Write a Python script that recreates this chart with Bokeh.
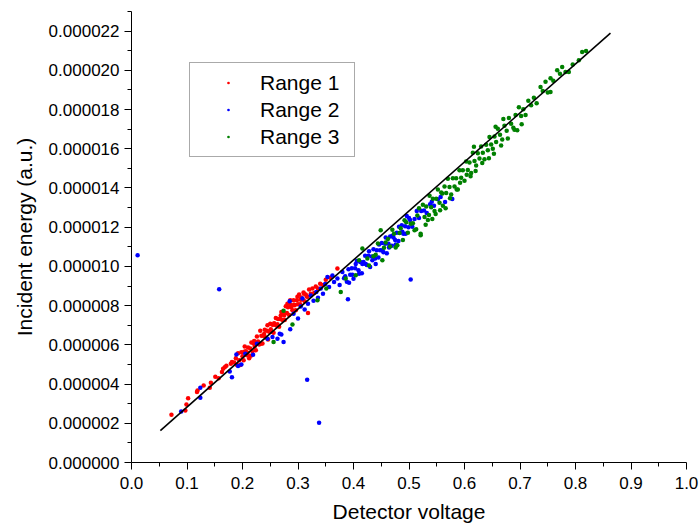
from bokeh.plotting import figure
from bokeh.models import Range1d, FixedTicker, PrintfTickFormatter, Legend, LegendItem
from bokeh.embed import file_html
from bokeh.resources import INLINE

MICRO = 1e-6  # y values below are given in units of 1e-6

# Range 1 (red)
r1_x = [0.072, 0.097, 0.099, 0.102, 0.118, 0.119, 0.130, 0.141, 0.143, 0.151, 0.157, 0.163, 0.165, 0.168, 0.171, 0.179, 0.181,
        0.185, 0.188, 0.190, 0.192, 0.194, 0.196, 0.198, 0.200, 0.202, 0.204, 0.206, 0.208, 0.210, 0.212, 0.214, 0.216,
        0.218, 0.220, 0.222, 0.224, 0.226, 0.228, 0.230, 0.232, 0.234, 0.236, 0.238, 0.240, 0.242, 0.244, 0.246, 0.248,
        0.250, 0.252, 0.254, 0.256, 0.258, 0.260, 0.262, 0.264, 0.266, 0.268, 0.270, 0.272, 0.274, 0.276, 0.278, 0.280,
        0.282, 0.284, 0.286, 0.288, 0.290, 0.292, 0.294, 0.296, 0.298, 0.300, 0.302, 0.304, 0.306, 0.308, 0.310, 0.312,
        0.314, 0.316, 0.318, 0.320, 0.323, 0.326, 0.329, 0.332, 0.336, 0.340, 0.345, 0.350, 0.358, 0.371,
        0.203, 0.209, 0.215, 0.221, 0.227, 0.233, 0.239, 0.245, 0.251, 0.257, 0.263, 0.269, 0.275, 0.281, 0.287, 0.293,
        0.299, 0.305, 0.311, 0.317]
r1_y = [2.43, 2.65, 2.96, 3.28, 3.59, 3.67, 3.93, 3.81, 4.07, 4.37, 4.30, 4.61, 4.78, 4.86, 4.93, 5.04, 5.12,
        5.10, 5.32, 4.97, 5.57, 5.22, 4.97, 5.62, 5.42, 5.22, 5.92, 5.67, 5.47, 5.87, 5.32, 5.82, 6.12,
        5.67, 6.07, 5.92, 5.72, 6.42, 6.17, 6.02, 6.72, 6.47, 6.07, 6.47, 6.77, 6.37, 6.72, 6.27, 6.67,
        7.07, 6.67, 7.02, 6.62, 7.02, 7.37, 6.97, 7.32, 6.92, 7.32, 7.67, 7.27, 7.62, 7.27, 7.97, 7.62,
        7.92, 7.52, 8.27, 7.92, 7.77, 8.27, 8.02, 7.77, 8.27, 8.07, 8.57, 8.07, 8.42, 8.32, 8.67, 8.22,
        8.57, 8.47, 7.62, 8.82, 8.60, 8.87, 8.65, 8.97, 8.87, 9.12, 9.05, 9.32, 9.42, 9.89,
        5.65, 5.60, 5.45, 6.20, 6.10, 6.05, 6.55, 7.00, 6.80, 7.10, 7.05, 7.50, 7.50, 8.10, 8.05, 8.05,
        8.45, 8.30, 8.60, 8.45]

# Range 2 (blue)
r2_x = [0.011, 0.158, 0.3165, 0.338, 0.503, 0.390,
        0.0895, 0.124, 0.124, 0.177, 0.181, 0.189, 0.192, 0.198, 0.205, 0.219, 0.226, 0.245, 0.254, 0.263, 0.267,
        0.270, 0.274, 0.286, 0.285, 0.292, 0.300, 0.305, 0.308, 0.312, 0.318, 0.323, 0.328, 0.333, 0.336, 0.341,
        0.345, 0.349, 0.353, 0.356, 0.362, 0.365, 0.371, 0.375, 0.380, 0.383,
        0.385, 0.388, 0.391, 0.394, 0.397, 0.400, 0.403, 0.406, 0.409, 0.412, 0.415, 0.418, 0.421, 0.424, 0.427,
        0.430, 0.433, 0.436, 0.439, 0.442, 0.445, 0.448, 0.451, 0.454, 0.457, 0.460, 0.463, 0.466, 0.469, 0.472,
        0.475, 0.478, 0.481, 0.484, 0.487, 0.490, 0.493, 0.496, 0.499, 0.502, 0.506, 0.510, 0.514, 0.518, 0.522,
        0.527, 0.532, 0.538, 0.545, 0.552, 0.565, 0.578,
        0.392, 0.398, 0.404, 0.410, 0.416, 0.422, 0.428, 0.434, 0.440, 0.446, 0.452, 0.458, 0.464, 0.470, 0.476,
        0.482, 0.488, 0.494, 0.500, 0.557, 0.541]
r2_y = [10.57, 8.83, 4.22, 2.03, 9.33, 8.32,
        2.60, 3.81, 3.30, 4.64, 4.35, 5.51, 4.92, 5.00, 5.55, 5.50, 6.06, 6.31, 6.40, 6.31, 6.57,
        6.53, 6.14, 6.79, 8.22, 7.59, 7.35, 7.95, 8.36, 7.80, 8.10, 8.52, 8.25, 8.70, 8.40, 8.87,
        8.60, 9.10, 9.46, 8.95, 9.54, 9.20, 9.38, 9.05, 9.71, 9.40,
        9.50, 9.22, 9.85, 9.57, 9.90, 9.37, 9.90, 10.27, 9.80, 10.22, 9.65, 10.22, 10.55, 10.07, 10.55,
        9.97, 10.50, 10.87, 10.40, 10.82, 10.45, 10.82, 11.20, 10.72, 11.15, 10.67, 11.15, 11.52, 11.05, 11.47,
        11.35, 11.72, 11.30, 11.72, 12.10, 11.67, 12.05, 12.57, 12.00, 12.37, 12.02, 12.42, 12.82, 12.47, 12.82,
        12.85, 12.72, 13.17, 13.10, 13.42, 13.29, 13.44,
        9.17, 9.57, 10.12, 9.62, 10.12, 10.12, 10.77, 10.32, 10.12, 11.12, 10.82, 11.47, 10.97, 11.57, 11.12,
        12.02, 11.77, 11.67, 12.47, 13.54, 13.30]

# Range 3 (green)
r3_x = [0.256, 0.274, 0.290, 0.335, 0.351, 0.377, 0.386, 0.404, 0.410, 0.416, 0.425, 0.428, 0.440, 0.449, 0.455,
        0.462, 0.473, 0.479, 0.485, 0.492, 0.503, 0.510, 0.515, 0.521, 0.521,
        0.525, 0.528, 0.531, 0.534, 0.537, 0.540, 0.543, 0.546, 0.549, 0.552, 0.555, 0.558, 0.561, 0.564, 0.567,
        0.570, 0.573, 0.576, 0.579, 0.582, 0.585, 0.588, 0.591, 0.594, 0.597, 0.600, 0.603, 0.606, 0.609, 0.612,
        0.615, 0.618, 0.621, 0.624, 0.627, 0.630, 0.633, 0.636, 0.639, 0.642, 0.645, 0.648, 0.651, 0.654, 0.657,
        0.660, 0.664, 0.668, 0.672, 0.676, 0.680, 0.684, 0.688, 0.692, 0.695, 0.698, 0.702, 0.706, 0.710, 0.715,
        0.720, 0.725, 0.730, 0.737, 0.741, 0.746, 0.750, 0.755, 0.755, 0.760, 0.767, 0.772, 0.776, 0.782, 0.788,
        0.795, 0.806, 0.812, 0.819,
        0.542, 0.556, 0.566, 0.574, 0.586, 0.592, 0.604, 0.611, 0.620, 0.632, 0.644, 0.653, 0.666, 0.678, 0.690,
        0.703, 0.656, 0.617, 0.670,
        0.436, 0.444, 0.452, 0.458, 0.466, 0.470, 0.476, 0.483, 0.489, 0.495, 0.498, 0.507, 0.513, 0.518, 0.530,
        0.536, 0.548, 0.560]
r3_y = [6.14, 7.74, 7.04, 8.27, 8.87, 8.69, 9.38, 9.55, 10.31, 10.91, 10.40, 10.05, 10.60, 11.84, 10.95,
        11.40, 11.67, 11.08, 11.95, 12.35, 12.18, 11.85, 12.60, 11.67, 11.59,
        13.15, 12.52, 13.05, 12.37, 13.60, 13.02, 13.45, 12.82, 13.45, 13.92, 13.25, 13.77, 13.10, 14.07, 13.75,
        14.47, 14.05, 13.67, 14.50, 14.07, 14.50, 13.92, 14.90, 14.52, 14.90, 14.37, 15.35, 14.92, 15.30, 14.77,
        15.80, 15.37, 15.15, 15.77, 15.50, 16.12, 15.80, 15.47, 16.20, 15.92, 16.60, 16.22, 16.00, 16.62, 16.35,
        17.02, 16.72, 16.47, 17.17, 16.92, 17.57, 17.27, 17.07, 17.72, 16.95, 18.12, 17.67, 18.02, 17.72, 18.45,
        18.22, 18.60, 18.32, 19.15, 18.95, 19.42, 18.87, 19.60, 18.90, 19.47, 20.00, 19.82, 20.17, 19.92, 19.92,
        20.30, 20.52, 20.94, 20.99,
        12.42, 12.87, 12.97, 13.47, 13.92, 14.27, 14.67, 14.60, 14.87, 15.27, 15.52, 15.75, 16.17, 16.52, 16.97,
        17.25, 17.12, 16.10, 17.52,
        10.52, 11.17, 10.32, 11.22, 11.02, 11.87, 10.97, 11.70, 11.35, 12.25, 11.72, 12.20, 11.90, 12.97, 12.12,
        12.62, 12.67, 13.72]

# Linear fit line end points
fit_x = [0.052, 0.863]
fit_y = [1.63, 21.90]

x_ticks = [0.0, 0.1, 0.2, 0.3, 0.4, 0.5, 0.6, 0.7, 0.8, 0.9, 1.0]
x_minor = [0.05, 0.15, 0.25, 0.35, 0.45, 0.55, 0.65, 0.75, 0.85, 0.95]
y_ticks_micro = [0, 2, 4, 6, 8, 10, 12, 14, 16, 18, 20, 22]
y_minor_micro = [1, 3, 5, 7, 9, 11, 13, 15, 17, 19, 21, 23]

FONT = "Liberation Sans"

p = figure(width=699, height=529, output_backend="svg", toolbar_location=None,
           x_range=Range1d(0.0, 1.0), y_range=Range1d(0.0, 23 * MICRO),
           min_border_left=131, min_border_right=13, min_border_top=11, min_border_bottom=67)
p.outline_line_color = None
p.xgrid.visible = False
p.ygrid.visible = False
p.background_fill_color = "white"
p.border_fill_color = "white"

series = [("Range 1", r1_x, r1_y, "#ff0000"),
          ("Range 2", r2_x, r2_y, "#0000ff"),
          ("Range 3", r3_x, r3_y, "#008000")]
items = []
for name, xs, ys, col in series:
    r = p.scatter(xs, [v * MICRO for v in ys], marker="dot", size=18, color=col)
    items.append(LegendItem(label=name, renderers=[r]))

p.line(fit_x, [v * MICRO for v in fit_y], line_color="black", line_width=1.6)

# axes
p.xaxis.ticker = FixedTicker(ticks=x_ticks, minor_ticks=x_minor)
p.yaxis.ticker = FixedTicker(ticks=[v * MICRO for v in y_ticks_micro],
                             minor_ticks=[v * MICRO for v in y_minor_micro])
p.xaxis.formatter = PrintfTickFormatter(format="%.1f")
p.yaxis.formatter = PrintfTickFormatter(format="%.6f")
p.xaxis.axis_label = "Detector voltage"
p.yaxis.axis_label = "Incident energy (a.u.)"
for ax in (p.xaxis[0], p.yaxis[0]):
    ax.axis_line_color = "black"
    ax.axis_line_width = 1
    ax.major_tick_line_color = "black"
    ax.minor_tick_line_color = "black"
    ax.major_tick_out = 7
    ax.major_tick_in = 0
    ax.minor_tick_out = 4
    ax.minor_tick_in = 0
    ax.major_label_text_font = FONT
    ax.major_label_text_font_size = "17px"
    ax.major_label_text_color = "black"
    ax.axis_label_text_font = FONT
    ax.axis_label_text_font_size = "21px"
    ax.axis_label_text_font_style = "normal"
    ax.axis_label_text_color = "black"
p.xaxis.major_label_standoff = 7
p.xaxis.axis_label_standoff = 8
p.yaxis.major_label_standoff = 5
p.yaxis.axis_label_standoff = 10

legend = Legend(items=items, location=(58, 305),
                padding=6, spacing=0, margin=0,
                glyph_width=64, glyph_height=27, label_height=27, label_width=88,
                label_standoff=0,
                label_text_font=FONT, label_text_font_size="21px", label_text_color="black",
                border_line_color="#555555", border_line_width=1,
                background_fill_color="white", background_fill_alpha=1.0)
p.add_layout(legend, "center")

open("out.html", "w").write(file_html(p, INLINE))
